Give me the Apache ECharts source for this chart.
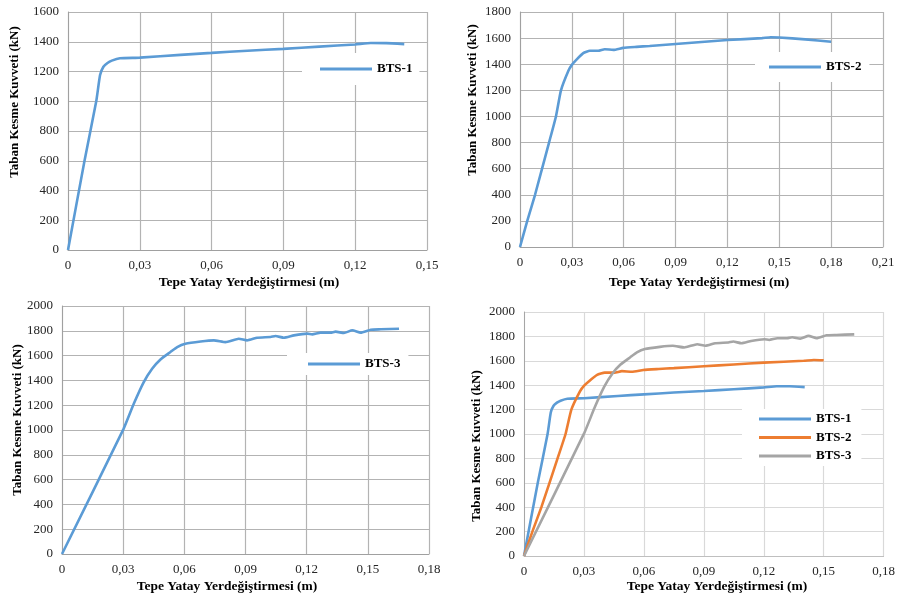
<!DOCTYPE html>
<html>
<head>
<meta charset="utf-8">
<script src="https://cdn.jsdelivr.net/npm/echarts@6/dist/echarts.min.js"></script>
<style>
body { margin: 0; background: #fff; }
.panel { position: absolute; }
</style>
</head>
<body>
<div id="p1" class="panel" style="left:0;top:0;width:449px;height:290px"></div>
<div id="p2" class="panel" style="left:449px;top:0;width:449px;height:290px"></div>
<div id="p3" class="panel" style="left:0;top:290px;width:449px;height:309px"></div>
<div id="p4" class="panel" style="left:449px;top:290px;width:449px;height:309px"></div>
<script>
// displacement (m) / base shear (kN)
var bts1Disp = [0, 0.0069, 0.0118, 0.0134, 0.0148, 0.0165, 0.0183, 0.0217, 0.03, 0.047, 0.06, 0.075, 0.09, 0.105, 0.12, 0.1265, 0.133, 0.1405];
var bts1Force = [0, 600, 1000, 1176, 1232, 1257, 1273, 1289, 1293, 1312, 1325, 1340, 1352, 1367, 1382, 1392, 1391, 1384];

var bts2Disp = [0, 0.0042, 0.0087, 0.0168, 0.0208, 0.0237, 0.028, 0.03, 0.0327, 0.0366, 0.0404, 0.0453, 0.049, 0.054, 0.0597, 0.0674, 0.075, 0.09, 0.105, 0.12, 0.14, 0.145, 0.15, 0.165, 0.18];
var bts2Force = [0, 200, 400, 800, 1000, 1200, 1350, 1395, 1435, 1485, 1503, 1503, 1515, 1510, 1525, 1533, 1540, 1555, 1570, 1585, 1600, 1607, 1605, 1590, 1572];

var bts3Disp = [0, 0.0302, 0.0352, 0.0401, 0.0442, 0.0483, 0.0532, 0.0565, 0.0605, 0.068, 0.0745, 0.0802, 0.0867, 0.0908, 0.0957, 0.1023, 0.1047, 0.1088, 0.1137, 0.1203, 0.1227, 0.1268, 0.1317, 0.1342, 0.1383, 0.1424, 0.1465, 0.1514, 0.1563, 0.1653];
var bts3Force = [0, 1009, 1211, 1386, 1494, 1569, 1629, 1669, 1696, 1714, 1723, 1709, 1736, 1723, 1744, 1750, 1758, 1744, 1763, 1777, 1771, 1785, 1785, 1793, 1782, 1804, 1785, 1809, 1812, 1817];

var seriesNames = ['BTS-1', 'BTS-2', 'BTS-3'];
var combinedColors = ['#5b9bd5', '#ed7d31', '#a5a5a5'];
var yTitle = 'Taban Kesme Kuvveti (kN)';
var xTitle = 'Tepe Yatay Yerdeğiştirmesi (m)';
var serif = 'Liberation Serif';

function pairs(xs, ys, maxX) {
    var out = [];
    for (var i = 0; i < xs.length; i++) {
        if (maxX == null || xs[i] <= maxX + 1e-9) out.push([xs[i], ys[i]]);
    }
    return out;
}

function tickText(v) {
    if (v === 0) return '0';
    return v.toFixed(2).replace('.', ',');
}

function Panel(id, cfg) {
    this.chart = echarts.init(document.getElementById(id));
    var gridColor = cfg.light ? '#d9d9d9' : '#b3b3b3';
    var series = cfg.series.map(function (s) {
        return {
            name: s.name,
            type: 'line',
            data: s.data,
            smooth: 0.15,
            showSymbol: false,
            symbol: 'none',
            lineStyle: { color: s.color, width: 2.6 },
            itemStyle: { color: s.color }
        };
    });
    this.option = {
        animation: false,
        grid: cfg.grid,
        xAxis: {
            type: 'value',
            min: 0,
            max: cfg.xMax,
            interval: 0.03,
            axisLine: { lineStyle: { color: cfg.light ? '#bfbfbf' : '#a0a0a0' } },
            axisTick: { show: false },
            splitLine: { lineStyle: { color: gridColor, width: 1.2 } },
            axisLabel: { formatter: tickText, fontFamily: serif, fontSize: 13, color: '#262626', margin: 9 }
        },
        yAxis: {
            type: 'value',
            min: 0,
            max: cfg.yMax,
            interval: 200,
            axisLine: { show: true, lineStyle: { color: cfg.light ? '#a6a6a6' : '#a0a0a0' } },
            axisTick: { show: false },
            splitLine: { lineStyle: { color: gridColor, width: 1.2 } },
            axisLabel: { formatter: function (v) { return String(v); }, fontFamily: serif, fontSize: 13, color: '#262626', margin: 9 }
        },
        legend: {
            orient: 'vertical',
            left: cfg.legend.left,
            top: cfg.legend.top,
            padding: cfg.legend.padding,
            backgroundColor: '#ffffff',
            icon: 'rect',
            itemWidth: 52,
            itemHeight: 3,
            itemGap: 4.5,
            data: cfg.series.map(function (s) { return s.name; }),
            textStyle: { fontFamily: serif, fontWeight: 'bold', fontSize: 13, color: '#000', lineHeight: 14 }
        },
        graphic: [
            {
                type: 'text',
                x: cfg.yName[0], y: cfg.yName[1],
                rotation: Math.PI / 2,
                style: { text: yTitle, fontFamily: serif, fontWeight: 'bold', fontSize: 13, fill: '#000', align: 'center', verticalAlign: 'middle' }
            },
            {
                type: 'text',
                x: cfg.xName[0], y: cfg.xName[1],
                style: { text: xTitle, fontFamily: serif, fontWeight: 'bold', fontSize: 13.5, fill: '#000', align: 'center', verticalAlign: 'middle' }
            }
        ],
        series: series
    };
    this.chart.setOption(this.option);
}

new Panel('p1', {
    grid: { left: 68, top: 12, width: 359, height: 238 },
    xMax: 0.15, yMax: 1600,
    legend: { left: 302, top: 53, padding: [9, 7, 9, 18] },
    yName: [15, 102], xName: [249, 283],
    series: [{ name: seriesNames[0], data: pairs(bts1Disp, bts1Force), color: '#5b9bd5' }]
});

new Panel('p2', {
    grid: { left: 71, top: 12, width: 363, height: 235 },
    xMax: 0.21, yMax: 1800,
    legend: { left: 306, top: 52, padding: [8, 8, 8, 14] },
    yName: [24, 100], xName: [250, 283],
    series: [{ name: seriesNames[1], data: pairs(bts2Disp, bts2Force), color: '#5b9bd5' }]
});

new Panel('p3', {
    grid: { left: 62, top: 16, width: 367, height: 248 },
    xMax: 0.18, yMax: 2000,
    legend: { left: 287, top: 63, padding: [4, 8, 4, 21] },
    yName: [18, 130], xName: [227, 297],
    series: [{ name: seriesNames[2], data: pairs(bts3Disp, bts3Force), color: '#5b9bd5' }]
});

new Panel('p4', {
    grid: { left: 75, top: 22, width: 361, height: 244 },
    xMax: 0.18, yMax: 2000, light: true,
    legend: { left: 293, top: 119, padding: [3, 10, 3, 17] },
    yName: [28, 156], xName: [268, 297],
    series: [
        { name: seriesNames[0], data: pairs(bts1Disp, bts1Force), color: combinedColors[0] },
        { name: seriesNames[1], data: pairs(bts2Disp, bts2Force, 0.15), color: combinedColors[1] },
        { name: seriesNames[2], data: pairs(bts3Disp, bts3Force), color: combinedColors[2] }
    ]
});
</script>
</body>
</html>
